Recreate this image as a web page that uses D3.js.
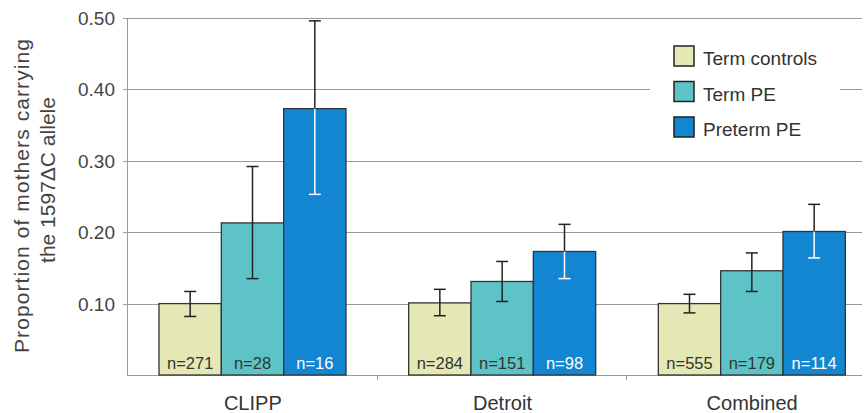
<!DOCTYPE html>
<html>
<head>
<meta charset="utf-8">
<style>
body { margin: 0; background: #fff; }
text { font-family: "Liberation Sans", Arial, sans-serif; }
</style>
</head>
<body>
<div id="chart"></div>
<script src="https://d3js.org/d3.v7.min.js"></script>
<script>
// data
const groups = ["CLIPP", "Detroit", "Combined"]
const series = ["Term controls", "Term PE", "Preterm PE"]
const colors = ["#e5e8b4", "#5ec3c6", "#1286d0"]
const values = [
  [0.100, 0.213, 0.373],
  [0.101, 0.131, 0.173],
  [0.100, 0.146, 0.201]
]
const errLow = [
  [0.082, 0.135, 0.253],
  [0.083, 0.103, 0.135],
  [0.087, 0.117, 0.164]
]
const errHigh = [
  [0.117, 0.292, 0.496],
  [0.120, 0.159, 0.211],
  [0.113, 0.171, 0.239]
]
const counts = [
  ["n=271", "n=28", "n=16"],
  ["n=284", "n=151", "n=98"],
  ["n=555", "n=179", "n=114"]
]
const yTicks = [0.1, 0.2, 0.3, 0.4, 0.5]

const W = 867, H = 413
const plotL = 127, plotR = 862, plotT = 18, plotB = 375

const svg = d3.select("#chart").append("svg")
    .attr("width", W).attr("height", H)

const y = d3.scaleLinear().domain([0, 0.5]).range([plotB, plotT])
const x0 = d3.scaleBand().domain(groups).range([plotL, 876])
const x1 = d3.scaleBand().domain(series).range([32, 219])

// gridlines
svg.append("g").selectAll("line")
    .data(yTicks).enter().append("line")
    .attr("x1", plotL - 4).attr("x2", plotR)
    .attr("y1", d => Math.round(y(d)) + 0.5).attr("y2", d => Math.round(y(d)) + 0.5)
    .style("stroke", "#9a9a9a").style("stroke-width", 1)

svg.append("g").selectAll("text")
    .data(yTicks).enter().append("text")
    .attr("x", 115).attr("y", d => y(d) + 7)
    .attr("text-anchor", "end")
    .style("font-size", "19px").style("fill", "#444")
    .text(d => d.toFixed(2))

// frame
svg.append("line").attr("x1", plotL + 0.5).attr("x2", plotL + 0.5)
    .attr("y1", plotT).attr("y2", plotB)
    .style("stroke", "#9a9a9a")
svg.append("line").attr("x1", plotL).attr("x2", plotR)
    .attr("y1", plotB + 0.5).attr("y2", plotB + 0.5)
    .style("stroke", "#9a9a9a")
// small ticks between groups
svg.append("g").selectAll("line")
    .data(groups.slice(1)).enter().append("line")
    .attr("x1", d => Math.round(x0(d)) + 0.5).attr("x2", d => Math.round(x0(d)) + 0.5)
    .attr("y1", plotB).attr("y2", plotB + 5)
    .style("stroke", "#9a9a9a")

// legend box (white background over gridline)
const legend = svg.append("g")
legend.append("rect").attr("x", 650).attr("y", 38).attr("width", 190).attr("height", 106)
    .style("fill", "#fff")
series.forEach((s, i) => {
  const ly = 46 + i * 35.5
  legend.append("rect").attr("x", 674).attr("y", ly).attr("width", 20).attr("height", 20)
      .style("fill", colors[i]).style("stroke", "#222").style("stroke-width", 1.5)
  legend.append("text").attr("x", 703).attr("y", ly + 19)
      .style("font-size", "19px").style("fill", "#333").text(s)
})

// bars
const g = svg.append("g").selectAll("g")
    .data(groups).enter().append("g")
    .attr("transform", d => `translate(${x0(d)},0)`)

g.each(function(grp, gi) {
  const sel = d3.select(this)
  series.forEach((s, si) => {
    const bx = x1(s), bw = x1.bandwidth()
    const v = values[gi][si]
    sel.append("rect")
        .attr("x", bx).attr("y", y(v))
        .attr("width", bw).attr("height", y(0) - y(v))
        .style("fill", colors[si]).style("stroke", "#333").style("stroke-width", 1.3)
    const cx = bx + bw / 2
    const inner = si == 2 ? "#fff" : "#222"
    // upper half of the error bar
    sel.append("line").attr("x1", cx).attr("x2", cx)
        .attr("y1", y(errHigh[gi][si])).attr("y2", y(v))
        .style("stroke", "#222").style("stroke-width", 1.5)
    sel.append("line").attr("x1", cx - 6).attr("x2", cx + 6)
        .attr("y1", y(errHigh[gi][si])).attr("y2", y(errHigh[gi][si]))
        .style("stroke", "#222").style("stroke-width", 1.5)
    // lower half, inside the bar
    sel.append("line").attr("x1", cx).attr("x2", cx)
        .attr("y1", y(v)).attr("y2", y(errLow[gi][si]))
        .style("stroke", inner).style("stroke-width", 1.5)
    sel.append("line").attr("x1", cx - 6).attr("x2", cx + 6)
        .attr("y1", y(errLow[gi][si])).attr("y2", y(errLow[gi][si]))
        .style("stroke", inner).style("stroke-width", 1.5)
    sel.append("text").attr("x", cx).attr("y", 368.5)
        .attr("text-anchor", "middle")
        .style("font-size", "16.5px").style("fill", si == 2 ? "#fff" : "#333")
        .text(counts[gi][si])
  })
  sel.append("text").attr("x", x0.bandwidth() / 2 + 1).attr("y", 410)
      .attr("text-anchor", "middle")
      .style("font-size", "20px").style("fill", "#333")
      .text(grp)
})

// y title
svg.append("text").attr("transform", "translate(29,196) rotate(-90)")
    .attr("text-anchor", "middle")
    .attr("textLength", 314).attr("lengthAdjust", "spacing")
    .style("font-size", "21px").style("fill", "#444")
    .text("Proportion of mothers carrying")
svg.append("text").attr("transform", "translate(55,180) rotate(-90)")
    .attr("text-anchor", "middle")
    .style("font-size", "21px").style("fill", "#444")
    .text("the 1597\u0394C allele")
</script>
</body>
</html>
